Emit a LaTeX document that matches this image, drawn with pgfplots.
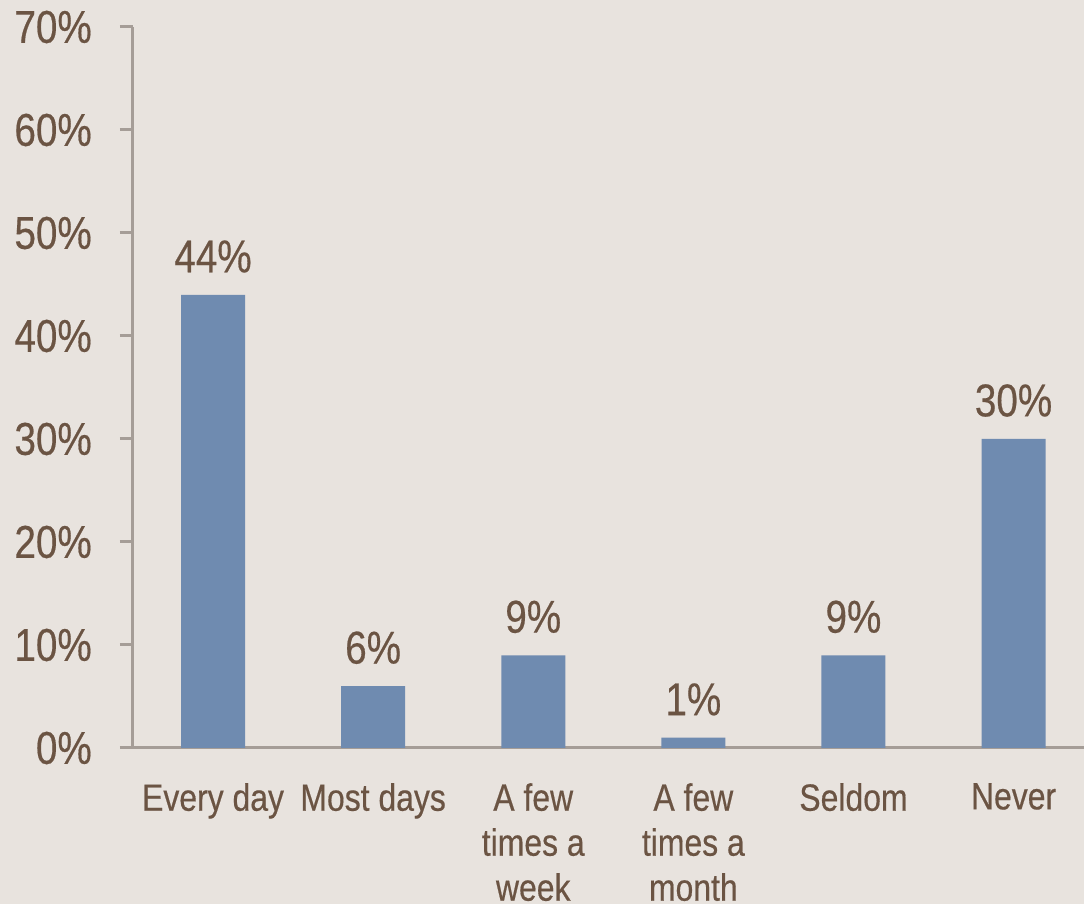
\documentclass[border=0pt]{standalone}
\usepackage{pgfplots}
\pgfplotsset{compat=1.18}
\usepackage{fontspec}
\setmainfont{Liberation Sans}[FakeStretch=0.84, FakeBold=0.4]
\definecolor{bgc}{HTML}{E8E3DE}
\definecolor{barc}{HTML}{6F8BB0}
\definecolor{txtc}{HTML}{6B5443}
\definecolor{axc}{HTML}{A59D97}
\begin{document}
\begin{tikzpicture}
\useasboundingbox[fill=bgc] (-133pt,-156pt) rectangle (951pt,748pt);
\begin{axis}[
  at={(0pt,0pt)}, anchor=south west,
  scale only axis,
  width=951pt, height=721pt,
  xmin=-0.5, xmax=5.44,
  ymin=0, ymax=70,
  axis x line*=bottom, axis y line*=left,
  axis line style={draw=axc, line width=3pt},
  every tick/.style={draw=axc, line width=3pt},
  tick align=outside,
  major tick length=13pt,
  ytick={0,10,...,70},
  yticklabel={\pgfmathprintnumber{\tick}\%},
  yticklabel style={font=\fontsize{46}{50}\selectfont, text=txtc, inner sep=0pt, anchor=east, xshift=-28pt},
  xtick={0,...,5},
  xticklabels={Every day, Most days, {A few\\times a\\week}, {A few\\times a\\month}, Seldom, Never},
  xtick style={draw=none},
  xticklabel style={font=\fontsize{38}{45}\selectfont, text=txtc, inner sep=0pt, align=center, anchor=north, yshift=-22pt},
  extra x ticks={-0.5,0.5,...,4.5},
  extra x tick labels={},
  extra x tick style={tick style={draw=axc, line width=3pt}, major tick length=13pt},
  /pgf/number format/assume math mode=true,
  ybar, bar width=64pt,
  nodes near coords={\pgfmathprintnumber{\pgfplotspointmeta}\%},
  nodes near coords style={font=\fontsize{46}{50}\selectfont, text=txtc, inner sep=0pt, anchor=south, yshift=22pt},
  clip=false,
]
\addplot[fill=barc, draw=none] coordinates {(0,44) (1,6) (2,9) (3,1) (4,9) (5,30)};
\end{axis}
\end{tikzpicture}
\end{document}
